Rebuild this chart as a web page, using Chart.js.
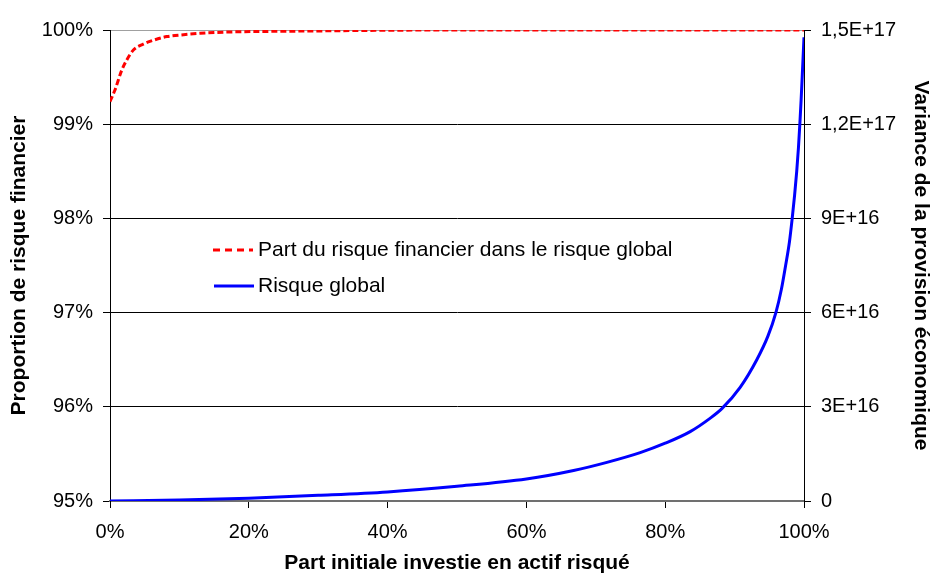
<!DOCTYPE html>
<html>
<head>
<meta charset="utf-8">
<script src="https://cdn.jsdelivr.net/npm/chart.js@4"></script>
<style>
  body { margin: 0; background: #fff; }
  canvas { display: block; }
</style>
</head>
<body>
<canvas id="riskChart" width="931" height="575"></canvas>
<script>
// ========== data ==========
// share of financial risk in global risk (left axis, %)
const partX = [0, 0.7, 1.7, 2.4, 3.4, 4.8, 6.2, 8.2, 10.6, 13, 17.8, 22.6, 30, 36, 50, 100];
const partFinancier = [99.24, 99.36, 99.575, 99.68, 99.79, 99.85, 99.89, 99.93, 99.95, 99.965, 99.98, 99.985, 99.99, 99.995, 100, 100];

// global risk, variance of the economic provision (right axis, in units of 1E+16)
const risqueX = [0, 10, 20, 30, 40, 50, 60, 66.8, 71.6, 76.4, 80, 83.6, 86.5, 88.2, 90.8, 93.2, 94.8, 95.95, 96.75, 97.35, 97.9, 98.3, 98.65, 98.95, 99.2, 99.4, 99.58, 99.74, 100];
const risqueGlobal = [0, 0.03, 0.09, 0.18, 0.29, 0.47, 0.70, 0.97, 1.23, 1.54, 1.84, 2.21, 2.64, 2.95, 3.62, 4.5, 5.25, 6.0, 6.75, 7.5, 8.25, 9.0, 9.75, 10.5, 11.25, 12.0, 12.75, 13.5, 14.77];

const xTickLabels = ['0%', '20%', '40%', '60%', '80%', '100%'];
const leftTickLabels = ['95%', '96%', '97%', '98%', '99%', '100%'];
const rightTickLabels = ['0', '3E+16', '6E+16', '9E+16', '1,2E+17', '1,5E+17'];

const legendLabels = ['Part du risque financier dans le risque global', 'Risque global'];

const FONT = '"Liberation Sans", Arial, sans-serif';

// legend sits inside the plot, so draw it by hand
const insideLegend = {
  id: 'insideLegend',
  afterDatasetsDraw(chart) {
    const ctx = chart.ctx;
    ctx.save();
    ctx.lineWidth = 3;
    ctx.lineCap = 'butt';

    ctx.strokeStyle = '#ff0000';
    ctx.setLineDash([7, 5]);
    ctx.beginPath();
    ctx.moveTo(213, 250);
    ctx.lineTo(253, 250);
    ctx.stroke();

    ctx.strokeStyle = '#0000ff';
    ctx.setLineDash([]);
    ctx.beginPath();
    ctx.moveTo(214, 286);
    ctx.lineTo(254, 286);
    ctx.stroke();

    ctx.fillStyle = '#000';
    ctx.font = '21px ' + FONT;
    ctx.textBaseline = 'middle';
    ctx.textAlign = 'left';
    ctx.fillText(legendLabels[0], 258, 250);
    ctx.fillText(legendLabels[1], 258, 286);
    ctx.restore();
  }
};

const ctx = document.getElementById('riskChart').getContext('2d');

const riskChart = new Chart(ctx, {
  type: 'line',
  data: {
    datasets: [{
      label: legendLabels[0],
      data: partX.map((x, i) => ({ x: x, y: partFinancier[i] })),
      borderColor: '#ff0000',
      borderWidth: 3,
      borderDash: [6, 3],
      pointRadius: 0,
      cubicInterpolationMode: 'monotone',
      yAxisID: 'y'
    }, {
      label: legendLabels[1],
      data: risqueX.map((x, i) => ({ x: x, y: risqueGlobal[i] * 1e16 })),
      borderColor: '#0000ff',
      borderWidth: 3,
      pointRadius: 0,
      cubicInterpolationMode: 'monotone',
      yAxisID: 'y1'
    }]
  },
  options: {
    responsive: false,
    animation: false,
    devicePixelRatio: 1,
    layout: { padding: { top: 30, left: 0, right: 0, bottom: 0 } },
    plugins: {
      legend: { display: false },
      tooltip: { enabled: false }
    },
    scales: {
      x: {
        type: 'linear',
        min: 0,
        max: 100,
        afterFit: s => { s.height = 74; },
        border: { color: '#707070', width: 2 },
        grid: { drawOnChartArea: false, tickLength: 7, color: '#000' },
        ticks: {
          stepSize: 20,
          autoSkip: false,
          maxRotation: 0,
          padding: 12,
          color: '#000',
          font: { family: FONT, size: 20 },
          callback: (v, i) => xTickLabels[i]
        },
        title: {
          display: true,
          text: 'Part initiale investie en actif risqué',
          color: '#000',
          font: { family: FONT, size: 21, weight: 'bold', lineHeight: 1 },
          padding: { top: 0, bottom: 1.5 }
        }
      },
      y: {
        position: 'left',
        min: 95,
        max: 100,
        afterFit: s => { s.width = 110; },
        border: { color: '#000', width: 1 },
        grid: {
          color: c => (c.tick && c.tick.value === 100) ? '#a0a0a0' : '#000',
          tickColor: '#000',
          lineWidth: 1,
          tickLength: 7
        },
        ticks: {
          stepSize: 1,
          padding: 10,
          color: '#000',
          font: { family: FONT, size: 20 },
          callback: (v, i) => leftTickLabels[i]
        },
        title: {
          display: true,
          text: 'Proportion de risque financier',
          color: '#000',
          font: { family: FONT, size: 21, weight: 'bold', lineHeight: 1 },
          padding: { top: 9, bottom: 0 }
        }
      },
      y1: {
        position: 'right',
        min: 0,
        max: 1.5e17,
        afterFit: s => { s.width = 127; },
        border: { color: '#000', width: 1 },
        grid: { drawOnChartArea: false, tickLength: 7, color: '#000' },
        ticks: {
          stepSize: 3e16,
          padding: 10,
          color: '#000',
          font: { family: FONT, size: 20 },
          callback: (v, i) => rightTickLabels[i]
        },
        title: {
          display: true,
          text: 'Variance de la provision économique',
          color: '#000',
          font: { family: FONT, size: 21, weight: 'bold', lineHeight: 1 },
          padding: { top: 0, bottom: 0 }
        }
      }
    }
  },
  plugins: [insideLegend]
});
</script>
</body>
</html>
